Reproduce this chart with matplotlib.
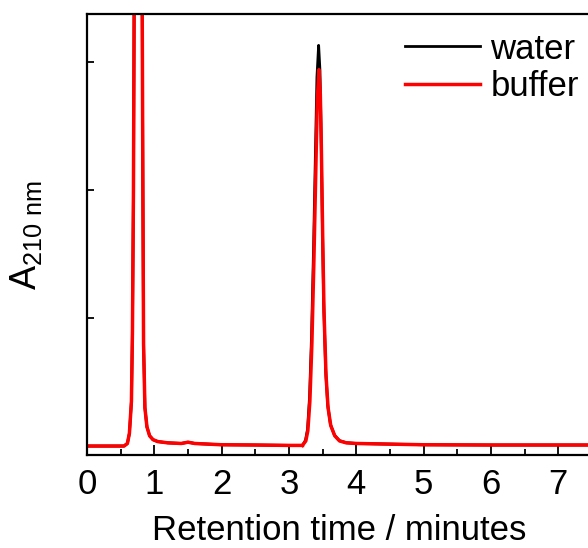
import matplotlib.pyplot as plt

plt.rcParams['font.family'] = ['Liberation Sans', 'DejaVu Sans']
plt.rcParams['mathtext.default'] = 'regular'

# chromatogram points (time in minutes, absorbance a.u.)
t_solvent = [0.0, 0.3, 0.55, 0.60, 0.63, 0.66, 0.675, 0.69, 0.70, 0.71, 0.76,
             0.81, 0.82, 0.83, 0.84, 0.86, 0.89, 0.93, 0.98, 1.05, 1.2, 1.4,
             1.5, 1.6, 2.0, 2.5, 3.0, 3.2]
a_solvent = [0.0, 0.0, 0.0, 0.02, 0.10, 0.35, 0.9, 2.0, 3.4, 5.0, 6.0,
             5.0, 3.4, 2.0, 0.8, 0.3, 0.15, 0.08, 0.05, 0.035, 0.025, 0.02,
             0.03, 0.02, 0.01, 0.008, 0.005, 0.005]

t_buffer = [3.20, 3.25, 3.28, 3.31, 3.34, 3.37, 3.40, 3.42, 3.445, 3.465,
            3.48, 3.50, 3.52, 3.55, 3.58, 3.62, 3.68, 3.75, 3.85, 4.0, 5.0,
            6.0, 7.5]
a_buffer = [0.005, 0.04, 0.12, 0.35, 0.80, 1.45, 2.20, 2.70, 2.94, 2.75,
            2.35, 1.65, 1.05, 0.55, 0.30, 0.16, 0.08, 0.04, 0.025, 0.02, 0.01,
            0.008, 0.008]

t_water = [3.20, 3.245, 3.275, 3.305, 3.335, 3.365, 3.395, 3.415, 3.44, 3.46,
           3.475, 3.495, 3.515, 3.545, 3.575, 3.615, 3.675, 3.75, 3.85, 4.0,
           5.0, 6.0, 7.5]
a_water = [0.005, 0.045, 0.13, 0.38, 0.86, 1.55, 2.35, 2.88, 3.13, 2.93,
           2.50, 1.76, 1.12, 0.59, 0.32, 0.17, 0.085, 0.042, 0.026, 0.02, 0.01,
           0.008, 0.008]

fig = plt.figure(figsize=(5.88, 5.48), dpi=100)
ax = fig.add_axes([87 / 588, 93 / 548, 505 / 588, 441 / 548])

# solvent front is the same for both runs
ax.plot(t_solvent, a_solvent, color='black', lw=2)
ax.plot(t_water, a_water, color='black', lw=2, label='water')
ax.plot(t_solvent, a_solvent, color='red', lw=2.5)
ax.plot(t_buffer, a_buffer, color='red', lw=2.5, label='buffer')

ax.set_xlim(0, 7.5)
ax.set_ylim(-0.07, 3.375)
ax.set_xticks(range(0, 8))
ax.set_xticks([0.5 + i for i in range(8)], minor=True)
ax.set_yticks([0, 1, 2, 3])
ax.set_yticklabels([])
ax.tick_params(direction='in', labelsize=25, width=1.3, length=7, pad=9)
ax.tick_params(which='minor', direction='in', width=1.3, length=4)
ax.tick_params(axis='y', length=5)
for s in ax.spines.values():
    s.set_linewidth(1.6)

ax.set_xlabel('Retention time / minutes', fontsize=25, labelpad=10)
ax.set_ylabel(r'A$_{210\ nm}$', fontsize=26, labelpad=22)

ax.legend(loc='upper right', bbox_to_anchor=(1.019, 1.009), frameon=False,
          fontsize=25, handlelength=2.15, handletextpad=0.3,
          labelspacing=0.12, borderaxespad=0.25)

fig.savefig('out.png', dpi=100)
